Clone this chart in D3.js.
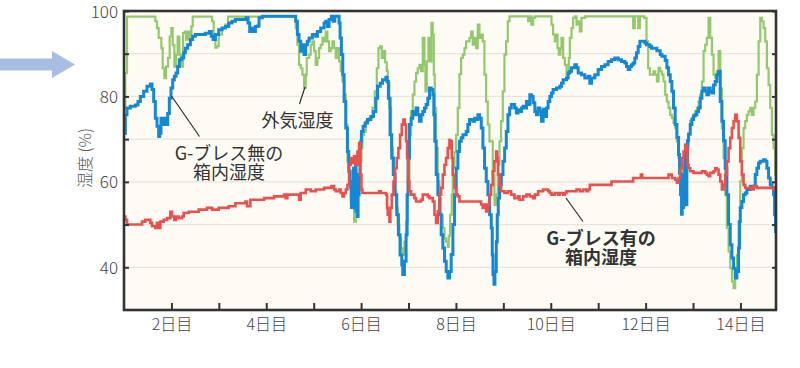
<!DOCTYPE html>
<html><head><meta charset="utf-8">
<script src="https://cdn.jsdelivr.net/npm/d3@7"></script>
<style>body{margin:0;background:#fff}svg{display:block}</style>
</head><body><svg id="c" width="800" height="368"></svg>
<script>
// day, humidity (%)
const outsideHumidity = [[1.0,77],[1.028,85.5],[1.063,98.7],[1.661,97.6],[1.696,96],[1.731,93.7],[1.788,91.3],[1.816,86.6],[1.851,84.3],[1.886,87],[1.928,89],[1.963,94],[1.999,96],[2.027,92],[2.062,87],[2.097,89.8],[2.132,94],[2.167,89.8],[2.21,87],[2.245,94.8],[2.28,95.2],[2.308,93.3],[2.35,95.2],[2.385,94],[2.42,96.4],[2.449,98.7],[2.857,97.6],[2.892,94.5],[2.927,91.4],[2.962,91.8],[2.997,94.5],[3.068,96],[3.138,96.8],[3.194,98.7],[4.622,96],[4.657,92.1],[4.692,87.4],[4.727,86.6],[4.763,85.1],[4.798,82],[4.833,85.1],[4.854,89],[4.903,89.8],[4.938,92.1],[4.974,92.9],[5.009,90.6],[5.044,87.4],[5.079,89],[5.114,91.3],[5.149,92.1],[5.185,93.7],[5.22,92.9],[5.255,95.2],[5.29,92.9],[5.325,90.6],[5.36,91.3],[5.396,92.9],[5.431,91.3],[5.466,89],[5.501,91.3],[5.536,88.2],[5.571,85.9],[5.607,83.5],[5.642,80.4],[5.677,73.4],[5.712,64.8],[5.747,59.3],[5.782,55.4],[5.817,53.9],[5.853,50.7],[5.888,53.9],[5.923,57],[5.958,60.9],[5.979,64.8],[6.007,67.9],[6.028,71],[6.064,71.8],[6.099,74.2],[6.169,74.9],[6.239,77.3],[6.289,81.2],[6.331,86.6],[6.366,91.3],[6.401,91.7],[6.436,89],[6.471,90.6],[6.507,88],[6.542,86],[6.562,83],[6.597,77.3],[6.632,67.9],[6.668,61.7],[6.703,57.8],[6.738,53.9],[6.773,50],[6.808,46.8],[6.843,44.5],[6.879,42.9],[6.914,46],[6.949,50.7],[6.984,60.1],[7.019,71],[7.054,76.5],[7.09,80.4],[7.125,83.5],[7.16,85.5],[7.195,86.6],[7.23,87.4],[7.265,85.9],[7.301,93.7],[7.336,87.4],[7.357,81.2],[7.385,88.2],[7.42,93.7],[7.455,88.2],[7.483,97.2],[7.511,94.5],[7.533,85.1],[7.554,77.3],[7.582,67.9],[7.617,60.1],[7.652,56.2],[7.687,52.3],[7.723,49.2],[7.758,46.8],[7.793,46],[7.828,44.8],[7.849,47.4],[7.877,52.3],[7.912,57],[7.933,63.2],[7.969,67.1],[8.004,71],[8.039,77.3],[8.074,85.2],[8.109,89],[8.144,89.8],[8.18,91.3],[8.215,92.9],[8.285,93.7],[8.32,95.2],[8.355,92.1],[8.391,93.7],[8.426,91.3],[8.461,96.8],[8.496,93.7],[8.531,94.5],[8.566,92.9],[8.601,85.1],[8.637,78.8],[8.672,73.4],[8.707,69.5],[8.777,61.7],[8.812,54.6],[8.848,57],[8.883,64],[8.918,69.5],[8.953,74.2],[8.988,81.2],[9.023,89.8],[9.058,92.9],[9.094,97.6],[9.129,98.75],[9.523,97.6],[9.558,98.75],[9.593,96.8],[9.628,98.4],[9.664,98.75],[10.015,96.8],[10.05,94.5],[10.086,92.9],[10.121,94.5],[10.142,91.3],[10.17,89.8],[10.205,91.3],[10.226,93.7],[10.261,89],[10.297,87.4],[10.332,85.1],[10.353,85.9],[10.381,89],[10.402,93.7],[10.437,96],[10.472,98.4],[10.508,98.75],[10.543,96.8],[10.578,97.6],[10.613,95.2],[10.648,98.4],[10.719,98.75],[11.738,96],[11.773,98.75],[11.844,96],[11.879,98.75],[11.97,98.4],[12.019,92.9],[12.054,86.6],[12.09,85.1],[12.132,85.1],[12.167,85.9],[12.202,85.1],[12.238,83.5],[12.273,86.7],[12.308,85.9],[12.343,85.1],[12.378,83.5],[12.413,80.4],[12.449,78.8],[12.484,77.3],[12.519,75.7],[12.554,75],[12.589,73.8],[12.624,72.6],[12.66,69.5],[12.695,65.6],[12.73,63.2],[12.765,61.7],[12.8,64],[12.835,68.7],[12.87,67.9],[12.906,71],[12.941,74.2],[12.976,75],[13.011,75.7],[13.046,76.5],[13.081,77.3],[13.117,78.8],[13.152,80.4],[13.187,83.5],[13.222,90.6],[13.257,92.1],[13.292,93.7],[13.328,98.4],[13.363,93.7],[13.398,89.8],[13.433,85.1],[13.468,84.3],[13.503,85.9],[13.539,90.6],[13.574,81.9],[13.609,72.6],[13.644,65.6],[13.679,57],[13.714,49.2],[13.75,43.7],[13.785,39.8],[13.82,36.7],[13.855,35.1],[13.89,37.5],[13.925,42.9],[13.961,50.7],[13.996,60.1],[14.031,67.9],[14.066,72.6],[14.101,74.2],[14.136,75.7],[14.171,76.5],[14.207,77.3],[14.242,75.7],[14.277,77.3],[14.312,78.8],[14.347,85.1],[14.383,92.9],[14.418,98.4],[14.453,97.6],[14.488,96],[14.523,92.9],[14.558,86.6],[14.593,82.7],[14.629,77.3],[14.664,71],[14.699,67.9],[14.734,61.7],[14.75,60]];

const boxWithout = [[1.0,71.4],[1.028,75.7],[1.063,77.3],[1.134,77.7],[1.239,78],[1.295,78.8],[1.345,80],[1.415,81.2],[1.485,82.4],[1.556,82.9],[1.591,81.6],[1.626,78.8],[1.661,74.9],[1.696,73],[1.731,70.6],[1.752,71.4],[1.78,74.9],[1.816,73.4],[1.851,74.9],[1.886,73.4],[1.921,76],[1.956,79.6],[1.991,82],[2.027,83.9],[2.062,84.7],[2.097,85.5],[2.132,87],[2.167,88.6],[2.21,89],[2.259,90.2],[2.294,91.3],[2.343,92.1],[2.4,93.3],[2.449,94.1],[2.505,94.5],[2.716,94.8],[2.8,95.2],[2.842,94.1],[2.878,93.3],[2.927,94.5],[2.997,95.6],[3.068,96],[3.138,96.4],[3.208,97.2],[3.278,97.6],[3.349,98],[3.574,98.4],[3.616,97.2],[3.651,95.2],[3.7,96],[3.736,95.2],[3.771,96.4],[3.813,96.5],[3.848,98.4],[3.918,98.75],[4.621,97.6],[4.656,94.5],[4.691,92.9],[4.727,90.6],[4.762,92.1],[4.797,89.8],[4.832,92.1],[4.867,92.9],[4.903,93.7],[4.973,94.5],[5.044,94.1],[5.079,95.2],[5.149,96],[5.22,97.2],[5.255,97.6],[5.29,96.4],[5.325,98],[5.374,98.75],[5.41,97.6],[5.445,98.75],[5.536,97.2],[5.557,93.7],[5.585,89.8],[5.614,85.1],[5.642,78.8],[5.677,72.6],[5.712,67.1],[5.74,62.5],[5.768,59.3],[5.782,58.6],[5.796,54],[5.81,60.1],[5.824,54.6],[5.838,63.2],[5.852,57],[5.866,53.9],[5.88,64],[5.894,53.1],[5.909,58.6],[5.923,51.9],[5.937,57],[5.958,61.7],[5.979,67.9],[5.993,69.5],[6.007,71.8],[6.043,73],[6.085,73.8],[6.134,74.6],[6.205,75.3],[6.261,76.5],[6.311,79.6],[6.346,82.4],[6.402,83.1],[6.451,83.9],[6.522,84.5],[6.548,83.5],[6.576,79.6],[6.611,71],[6.646,65.6],[6.682,61.7],[6.717,57],[6.752,52.3],[6.787,47.6],[6.822,42.9],[6.858,40.6],[6.879,38.3],[6.914,41.4],[6.949,47.6],[6.971,57],[6.992,65.6],[7.02,73.4],[7.055,74.9],[7.09,76.5],[7.126,75.7],[7.161,77.3],[7.196,75.7],[7.231,74.2],[7.267,75.7],[7.302,76.5],[7.337,77.3],[7.372,78.1],[7.407,79.6],[7.443,82],[7.478,81.6],[7.513,80.4],[7.534,75.7],[7.555,69.5],[7.584,61.7],[7.619,57],[7.654,52.3],[7.689,47.6],[7.724,44.5],[7.76,41.4],[7.795,39],[7.83,37.5],[7.865,39],[7.9,43],[7.936,50],[7.971,57],[8.006,63.2],[8.041,67.1],[8.076,69.5],[8.112,70.3],[8.147,71],[8.217,71.8],[8.252,73.4],[8.288,74.6],[8.358,74.2],[8.393,74.9],[8.428,74.6],[8.464,75.7],[8.499,74.9],[8.534,72.6],[8.569,67.9],[8.604,63.2],[8.64,60.1],[8.675,57],[8.71,52.3],[8.745,49.2],[8.766,42.9],[8.781,38.3],[8.802,36],[8.823,39],[8.851,46],[8.872,52.3],[8.893,56.2],[8.921,59.3],[8.957,61.7],[8.992,64.8],[9.027,67.9],[9.062,71.8],[9.097,75.7],[9.133,77.3],[9.168,78.1],[9.238,77.3],[9.274,76.1],[9.309,76.9],[9.344,76.5],[9.382,77.3],[9.417,77.7],[9.453,77.3],[9.488,78.8],[9.523,78.1],[9.558,80.4],[9.593,80],[9.628,78.5],[9.664,76.5],[9.699,75.7],[9.734,77.3],[9.769,76.5],[9.804,74.2],[9.839,77],[9.875,75.3],[9.91,77.3],[9.945,78.8],[9.98,80],[10.015,80.8],[10.05,81.6],[10.121,82],[10.191,82.4],[10.226,83.1],[10.261,83.9],[10.332,84.3],[10.367,85.5],[10.402,85.9],[10.437,86.7],[10.507,87.4],[10.543,86.7],[10.578,85.5],[10.648,85.1],[10.718,84.3],[10.789,84.7],[10.824,83.1],[10.859,84.3],[10.929,85.1],[11.0,86.3],[11.07,87],[11.14,87.4],[11.211,88.2],[11.281,88.6],[11.351,89],[11.422,88.6],[11.492,88.2],[11.562,87.8],[11.597,87],[11.633,86.3],[11.668,87],[11.703,87.4],[11.738,87.8],[11.773,89],[11.808,90.2],[11.844,91.7],[11.879,92.9],[11.984,92.5],[12.019,92.1],[12.09,91.7],[12.125,91.3],[12.238,90.7],[12.308,89.8],[12.343,89.4],[12.413,88.4],[12.449,86.7],[12.484,85.1],[12.519,83.5],[12.554,81.2],[12.589,77.3],[12.624,73.4],[12.66,70.4],[12.695,66.4],[12.716,62],[12.737,57],[12.758,52.4],[12.772,61.7],[12.786,54],[12.8,60.1],[12.814,54.6],[12.828,66.4],[12.842,67.9],[12.856,54.7],[12.87,64.8],[12.885,69.6],[12.906,71.2],[12.941,73.4],[12.976,74.6],[13.011,75.4],[13.046,75.7],[13.081,76.5],[13.117,77.3],[13.152,79.6],[13.187,81.2],[13.222,82],[13.257,81.2],[13.292,80.4],[13.328,82],[13.363,81.2],[13.398,80.8],[13.433,82.7],[13.468,83.5],[13.503,85.1],[13.539,85.9],[13.574,78.8],[13.609,74.2],[13.644,69.6],[13.679,63.2],[13.714,57],[13.75,50],[13.785,45.3],[13.82,42.2],[13.855,39.8],[13.89,37.5],[13.925,39],[13.961,44.5],[13.982,50.7],[13.996,54],[14.031,55.4],[14.066,57],[14.101,57.4],[14.136,58.2],[14.207,59],[14.242,58.6],[14.277,59],[14.312,61.7],[14.347,63.2],[14.383,64.4],[14.418,64.8],[14.488,65.2],[14.523,64.8],[14.558,63.2],[14.593,60.9],[14.629,59.3],[14.664,58.6],[14.699,57],[14.72,52.3],[14.741,48.4],[14.75,49]];

const boxWith = [[1.0,51.9],[1.028,51.1],[1.063,50],[1.38,50.7],[1.45,51.1],[1.556,50.4],[1.591,49.6],[1.661,49.2],[1.696,50.4],[1.731,49.2],[1.767,50.7],[1.837,51.1],[1.907,51.5],[1.977,53],[2.013,51.9],[2.062,51.1],[2.097,51.9],[2.153,51.5],[2.224,51.9],[2.259,52.7],[2.364,53],[2.575,53.5],[2.751,53.9],[2.857,53.5],[2.997,53.9],[3.208,54.3],[3.349,55],[3.56,55.4],[3.595,54.3],[3.665,55.8],[3.954,56.2],[4.165,56.6],[4.376,57],[4.411,56.2],[4.446,57],[4.692,55.8],[4.727,57.4],[4.833,58.2],[4.938,57.8],[5.044,58.2],[5.22,58.6],[5.374,59],[5.431,58.2],[5.466,57.8],[5.536,58.2],[5.571,57.4],[5.607,56.6],[5.642,57.4],[5.677,58.2],[5.712,59.3],[5.747,64],[5.782,65.6],[5.817,64.4],[5.853,66],[5.888,64],[5.923,67.1],[5.958,69.1],[5.979,61.7],[6.007,58.2],[6.028,57.4],[6.38,57.8],[6.415,57.4],[6.527,57],[6.548,53.9],[6.562,52.3],[6.597,50.7],[6.618,53.9],[6.647,57],[6.682,60.1],[6.717,63.2],[6.752,65.6],[6.787,67.9],[6.822,71],[6.858,73.4],[6.893,74.6],[6.921,73.4],[6.949,69.5],[6.97,65.6],[6.991,60.1],[7.019,57.8],[7.054,57],[7.125,56.2],[7.16,55.4],[7.265,55.8],[7.301,57],[7.406,56.6],[7.441,56.2],[7.512,55.4],[7.547,52.3],[7.582,50.4],[7.617,53.1],[7.652,57],[7.687,58.6],[7.723,61.7],[7.758,64],[7.793,65.6],[7.828,67.9],[7.863,69.8],[7.884,69.5],[7.912,65.6],[7.933,61.7],[7.969,58.6],[8.004,57],[8.039,56.6],[8.074,55.4],[8.531,54.7],[8.566,53.9],[8.601,54.7],[8.637,53.1],[8.672,54.7],[8.707,57],[8.742,59.3],[8.777,62.5],[8.812,64.8],[8.848,67.1],[8.869,65.6],[8.89,61.7],[8.918,59.3],[8.953,57.8],[9.023,57.4],[9.094,57.8],[9.164,57],[9.234,56.2],[9.305,56.6],[9.34,55.8],[9.418,56.6],[9.488,57],[9.558,56.6],[9.628,56.2],[9.664,57],[9.734,57.8],[9.839,58.2],[9.945,57.8],[9.98,57.4],[10.015,57],[10.086,57.4],[10.156,57],[10.191,57.4],[10.261,57],[10.297,57.4],[10.332,57.8],[10.543,58.2],[10.613,57.8],[10.683,58.2],[10.754,57.8],[10.789,58.2],[10.824,59.3],[11.281,60.1],[11.738,60.9],[11.9,61.7],[11.928,60.9],[12.484,61.7],[12.554,60.9],[12.624,60.5],[12.66,59.8],[12.695,60.9],[12.73,63.2],[12.765,65.6],[12.8,67.1],[12.835,68.7],[12.87,67.9],[12.885,64],[12.906,63.2],[12.941,62.5],[13.011,62.1],[13.187,62.5],[13.257,62.1],[13.292,61.7],[13.328,61.3],[13.363,62.1],[13.433,62.5],[13.468,63.2],[13.503,62.9],[13.539,61.7],[13.574,60.1],[13.609,58.2],[13.644,59.3],[13.679,61.7],[13.714,64.8],[13.75,67.9],[13.785,70.3],[13.82,72.6],[13.855,74.2],[13.89,75.7],[13.925,74.2],[13.961,70.3],[13.996,64.8],[14.031,61.7],[14.066,59.3],[14.101,58.6],[14.242,58.2],[14.277,59],[14.347,58.6],[14.699,58.2],[14.75,58.2]];

const yTickValues = [40,50,60,70,80,90,100];
const yLabelValues = [40,60,80,100];
const dayTickValues = [2,3,4,5,6,7,8,9,10,11,12,13,14];
const dayLabelValues = [2,4,6,8,10,12,14];
const yTitle = "湿度 (%)";

const FONT = "'Noto Sans CJK JP','Noto Sans',sans-serif";
const L=124, R=776, T=11, B=310;
const x = d3.scaleLinear().domain([1,14.75]).range([L,R]);
const y = d3.scaleLinear().domain([30,100]).range([B,T]);

const svg = d3.select('#c');

// arrow
svg.append('polygon')
  .attr('points','0,58.5 52,58.5 52,51 75,64.5 52,78 52,70.5 0,70.5')
  .attr('fill','#a9bde3');

// plot background
svg.append('rect').attr('x',L).attr('y',T).attr('width',R-L).attr('height',B-T).attr('fill','#fdfbf3');

// grid
svg.append('g').selectAll('line').data([40,50,60,70,80,90]).join('line')
  .attr('x1',L).attr('x2',R).attr('y1',d=>y(d)).attr('y2',d=>y(d))
  .attr('stroke','#e6e4dc').attr('stroke-width',1.2);

svg.append('defs').append('clipPath').attr('id','clip')
  .append('rect').attr('x',L).attr('y',T).attr('width',R-L).attr('height',B-T);

const line = d3.line().x(d=>x(d[0])).y(d=>y(d[1])).curve(d3.curveStepAfter);
const g = svg.append('g').attr('clip-path','url(#clip)');
g.append('path').datum(outsideHumidity).attr('d',line).attr('fill','none').attr('stroke','#93c96c').attr('stroke-width',2.2);
g.append('path').datum(boxWithout).attr('d',line).attr('fill','none').attr('stroke','#1388d3').attr('stroke-width',3);
g.append('path').datum(boxWith).attr('d',line).attr('fill','none').attr('stroke','#e8514f').attr('stroke-width',2.6);

// axes
const yAxisL = d3.axisLeft(y).tickValues(yTickValues).tickSizeInner(-5).tickSizeOuter(0).tickPadding(6)
  .tickFormat(d=>yLabelValues.includes(d)?d:'');
const yAxisR = d3.axisRight(y).tickValues(yTickValues).tickSizeInner(-4).tickSizeOuter(0).tickFormat('');
const xAxis = d3.axisBottom(x).tickValues(dayTickValues).tickSizeInner(-7).tickSizeOuter(0).tickPadding(9)
  .tickFormat(d=>dayLabelValues.includes(d)?d+'日目':'');

const gy = svg.append('g').attr('transform',`translate(${L},0)`).call(yAxisL);
const gr = svg.append('g').attr('transform',`translate(${R},0)`).call(yAxisR);
const gx = svg.append('g').attr('transform',`translate(0,${B})`).call(xAxis);
[gy,gr,gx].forEach(a=>{
  a.select('.domain').remove();
  a.selectAll('.tick line').attr('stroke','#333').attr('stroke-width',2);
  a.selectAll('text').attr('font-family',FONT).attr('fill','#444').attr('font-weight',300);
});
gy.selectAll('text').attr('font-size',17).attr('dy','0.36em');
gx.selectAll('text').attr('font-size',16);

// frame
svg.append('rect').attr('x',L).attr('y',T).attr('width',R-L).attr('height',B-T)
  .attr('fill','none').attr('stroke','#333').attr('stroke-width',2.6);

// y title
svg.append('text').attr('transform','translate(84,158) rotate(-90)')
  .attr('text-anchor','middle').attr('dominant-baseline','central')
  .attr('font-family',FONT).attr('font-size',16).attr('font-weight',300).attr('fill','#555').text(yTitle);

// annotations
function leader(x1,y1,x2,y2){
  svg.append('line').attr('x1',x1).attr('y1',y1).attr('x2',x2).attr('y2',y2).attr('stroke','#222').attr('stroke-width',1.1);
}
function label(lines,cx,cy,weight){
  const t = svg.append('text').attr('font-family',FONT).attr('font-size',18).attr('font-weight',weight)
    .attr('fill','#333').attr('text-anchor','middle');
  lines.forEach((s,i)=>t.append('tspan').attr('x',cx).attr('y',cy+i*19).attr('dominant-baseline','central').text(s));
}
leader(305,87,299.5,104);
label(['外気湿度'],297.5,119,400);
leader(171.5,96,199.5,136.5);
label(['G-ブレス無の','箱内湿度'],229,152,400);
leader(566,198,583,221.5);
label(['G-ブレス有の','箱内湿度'],601,237,700);
</script></body></html>
